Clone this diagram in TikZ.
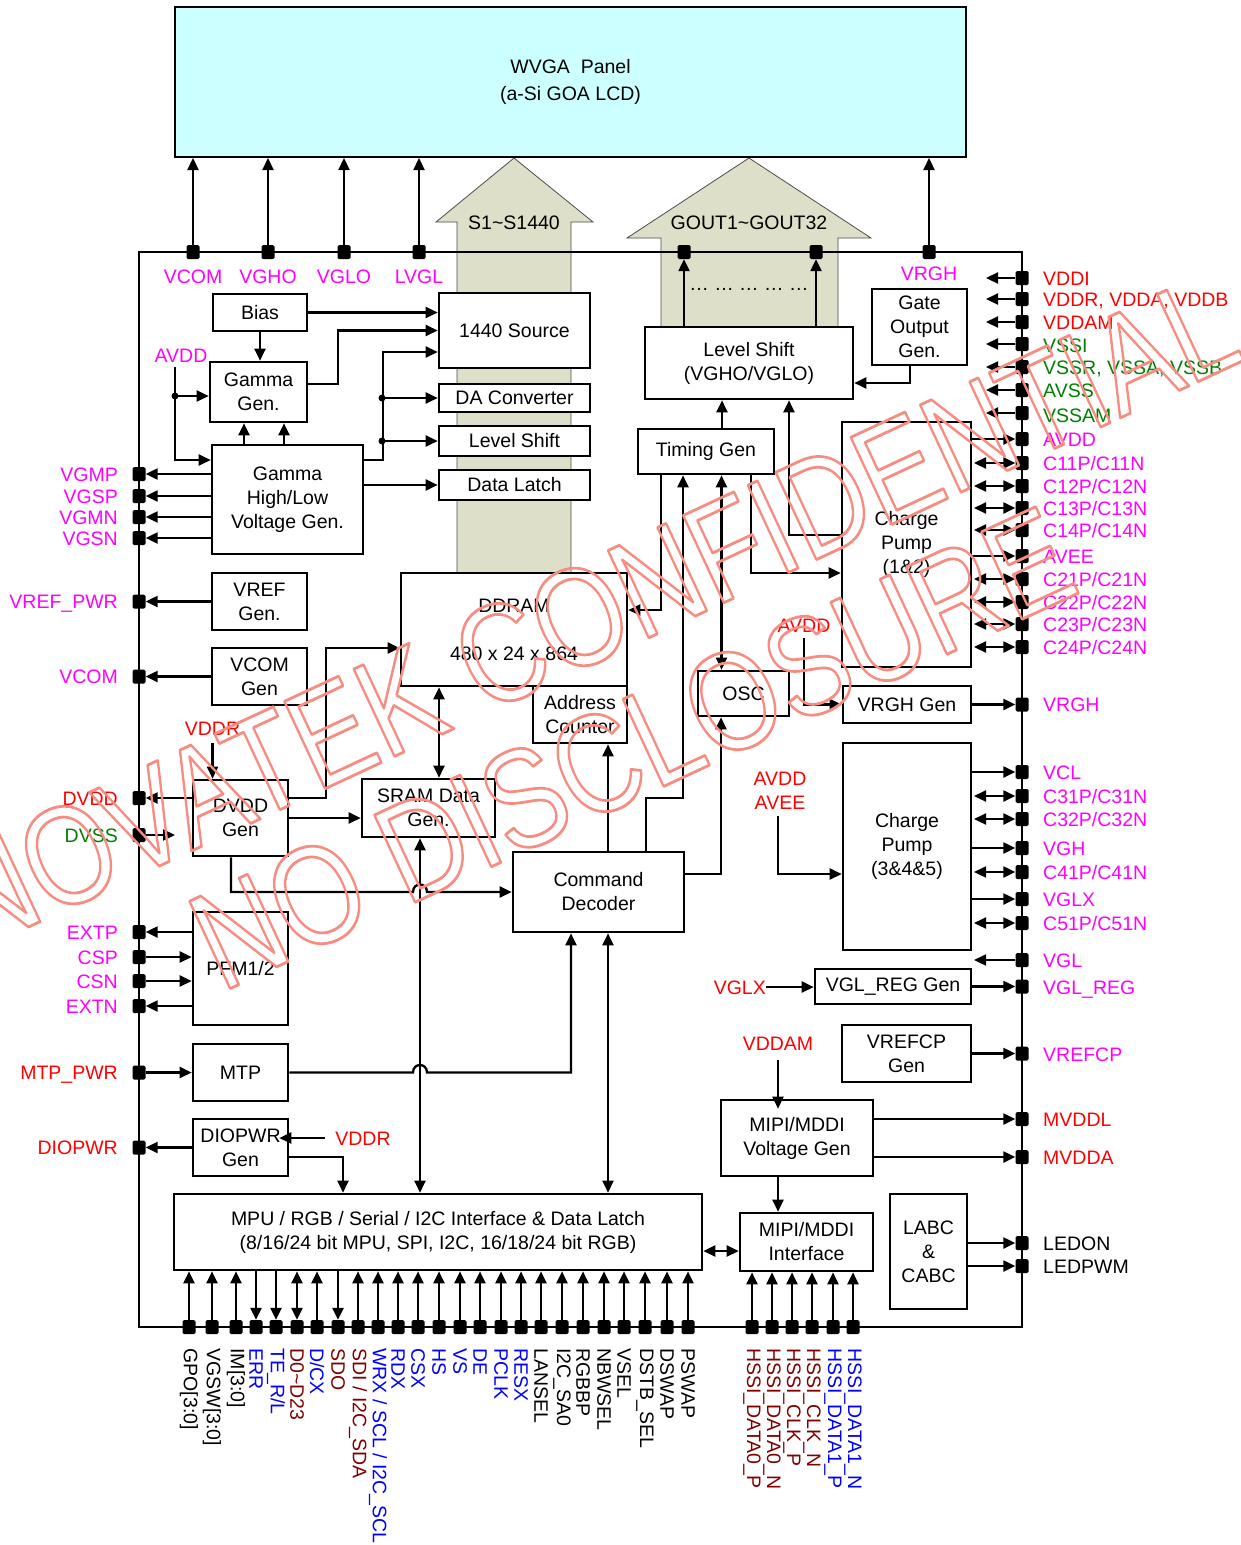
\documentclass[tikz,border=0pt]{standalone}
\usepackage{fontspec}
\usepackage{graphicx}
\setmainfont{Liberation Sans}
\usetikzlibrary{arrows.meta,calc}
\definecolor{mag}{RGB}{255,0,255}
\definecolor{rd}{RGB}{255,0,0}
\definecolor{gr}{RGB}{0,128,0}
\definecolor{bl}{RGB}{0,0,255}
\definecolor{mr}{RGB}{128,0,0}
\definecolor{panelc}{RGB}{204,255,255}
\definecolor{shaftc}{RGB}{221,223,200}
\definecolor{wm}{RGB}{246,140,130}
\newcommand\pinat[3]{\node[pin] (#1) at (#2,#3) {};}
\newcommand\rlab[4]{\node[lab,anchor=west,text=#3] (#1) at (1043,#2) {#4};}
\newcommand\llab[4]{\node[lab,anchor=east,text=#3] (#1) at (118,#2) {#4};}
\newcommand\blab[4]{\node[blabs,text=#3] (#1) at ([yshift=-14pt]#2.south) {#4};}
\newcommand\wmout[1]{\scalebox{0.82}[1]{\special{pdf:literal direct 1 Tr 2.8 w 1 j}#1\special{pdf:literal direct 0 Tr}}}
\tikzset{
  box/.style={draw, line width=2.6pt, fill=white, align=center, inner sep=0pt},
  pin/.style={fill=black, rectangle, rounded corners=1.5pt, minimum width=13pt, minimum height=14pt, inner sep=0pt},
  conn/.style={line width=2.3pt},
  arr/.style={conn, -{Triangle[length=12pt,width=11pt]}},
  darr/.style={conn, {Triangle[length=12pt,width=11pt]}-{Triangle[length=12pt,width=11pt]}},
  lab/.style={inner sep=0pt, text height=14pt, text depth=0pt},
  blabs/.style={inner sep=0pt, rotate=-90, anchor=west},
  shaft/.style={fill=shaftc, draw=black!70, line width=0.8pt},
  wmk/.style={text=wm, font=\fontsize{140}{140}\selectfont, inner sep=0pt},
}
\begin{document}
\begin{tikzpicture}[x=1pt,y=-1pt,font=\fontsize{19.5}{24}\selectfont]
\useasboundingbox (0,0) rectangle (1241,1545);
\fill[white] (0,0) rectangle (1241,1545);

% big bus arrows
\path[shaft] (457,573) -- (457,222) -- (436,222) -- (514,158) -- (593,222) -- (571,222) -- (571,573) -- cycle;
\path[shaft] (661,327) -- (661,238) -- (627,238) -- (749,158) -- (871,238) -- (838,238) -- (838,327) -- cycle;
\node (s1t) at (514,223) {S1\textasciitilde S1440};
\node (goutt) at (749,223) {GOUT1\textasciitilde GOUT32};

% panel and chip
\node[draw, line width=2pt, fill=panelc, minimum width=791pt, minimum height=150pt, align=center, inner sep=0pt] (panel) at (570.5,82) {WVGA\ \ Panel\\[3pt](a-Si GOA LCD)};
\node[draw, line width=2.5pt, minimum width=883pt, minimum height=1075pt, inner sep=0pt] (chip) at (580.5,789.5) {};

% blocks
\node[box, minimum width=94pt, minimum height=37pt] (bias) at (260,312.5) {Bias};
\node[box, minimum width=97pt, minimum height=60pt] (gg) at (258.5,392) {Gamma\\Gen.};
\node[box, minimum width=151pt, minimum height=109pt] (ghl) at (287.5,499.5) {Gamma\\High/Low\\Voltage Gen.};
\node[box, minimum width=151pt, minimum height=75pt] (src) at (514.5,330.5) {1440 Source};
\node[box, minimum width=151pt, minimum height=28pt] (dac) at (514.5,398) {DA Converter};
\node[box, minimum width=151pt, minimum height=30pt] (ls1) at (514.5,441) {Level Shift};
\node[box, minimum width=151pt, minimum height=30pt] (dl) at (514.5,485) {Data Latch};
\node[box, minimum width=95pt, minimum height=57pt] (vref) at (259.5,601.5) {VREF\\Gen.};
\node[box, minimum width=95pt, minimum height=57pt] (vcomg) at (259.5,676.5) {VCOM\\Gen};
\node[box, minimum width=226pt, minimum height=113pt] (ddram) at (514,629.5) {DDRAM\\[24pt]480 x 24 x 864};
\node[box, minimum width=94pt, minimum height=57pt] (addr) at (580,714.5) {Address\\Counter};
\node[box, minimum width=95pt, minimum height=76pt] (dvdd) at (240.5,818) {DVDD\\Gen};
\node[box, minimum width=133pt, minimum height=58pt] (sram) at (428.5,808) {SRAM Data\\Gen.};
\node[box, minimum width=171pt, minimum height=80pt] (cmd) at (598.5,892) {Command\\Decoder};
\node[box, minimum width=95pt, minimum height=113pt] (pfm) at (240.5,968.5) {PFM1/2};
\node[box, minimum width=95pt, minimum height=57pt] (mtp) at (240.5,1072.5) {MTP};
\node[box, minimum width=95pt, minimum height=57pt] (diop) at (240.5,1147.5) {DIOPWR\\Gen};
\node[box, minimum width=528pt, minimum height=76pt] (mpu) at (438,1232) {MPU / RGB / Serial / I2C Interface \& Data Latch\\(8/16/24 bit MPU, SPI, I2C, 16/18/24 bit RGB)};
\node[box, minimum width=208pt, minimum height=72pt] (ls2) at (749,363) {Level Shift\\(VGHO/VGLO)};
\node[box, minimum width=95pt, minimum height=76pt] (gate) at (919.5,327) {Gate\\Output\\Gen.};
\node[box, minimum width=136pt, minimum height=45pt] (tim) at (706,451.5) {Timing Gen};
\node[box, minimum width=91pt, minimum height=45pt] (osc) at (743.5,693.5) {OSC};
\node[box, minimum width=129pt, minimum height=245pt] (cp12) at (906.5,544.5) {Charge\\Pump\\(1\&2)};
\node[box, minimum width=128pt, minimum height=37pt] (vrghg) at (907,704.5) {VRGH Gen};
\node[box, minimum width=128pt, minimum height=207pt] (cp345) at (907,846.5) {Charge\\Pump\\(3\&4\&5)};
\node[box, minimum width=156pt, minimum height=35pt] (vglr) at (893,986.5) {VGL\_REG Gen};
\node[box, minimum width=129pt, minimum height=57pt] (vrefcp) at (906.5,1053.5) {VREFCP\\Gen};
\node[box, minimum width=152pt, minimum height=76pt] (mipiv) at (797,1138) {MIPI/MDDI\\Voltage Gen};
\node[box, minimum width=133pt, minimum height=58pt] (mipii) at (806.5,1242) {MIPI/MDDI\\Interface};
\node[box, minimum width=77pt, minimum height=115pt] (labc) at (928.5,1251.5) {LABC\\\&\\CABC};
\node (dots) at (749,289) {… … … … …};

% pins top
\pinat{pT1}{193}{252}\pinat{pT2}{268}{252}\pinat{pT3}{344}{252}\pinat{pT4}{419}{252}
\pinat{pG1}{684}{252}\pinat{pG2}{816}{252}\pinat{pVRGHt}{929}{252}
% pins right
\pinat{pVDDI}{1022}{278}\pinat{pVDDR}{1022}{299}\pinat{pVDDAM}{1022}{322}\pinat{pVSSI}{1022}{344}
\pinat{pVSSR}{1022}{367}\pinat{pAVSS}{1022}{390}\pinat{pVSSAM}{1022}{413}
\pinat{pAVDDr}{1022}{439}\pinat{pC11}{1022}{463}\pinat{pC12}{1022}{486}\pinat{pC13}{1022}{508}
\pinat{pC14}{1022}{530}\pinat{pAVEE}{1022}{556}\pinat{pC21}{1022}{579}\pinat{pC22}{1022}{602}
\pinat{pC23}{1022}{624}\pinat{pC24}{1022}{647}\pinat{pVRGH}{1022}{704.5}
\pinat{pVCL}{1022}{772}\pinat{pC31}{1022}{796}\pinat{pC32}{1022}{819}\pinat{pVGH}{1022}{848}
\pinat{pC41}{1022}{872}\pinat{pVGLX}{1022}{899}\pinat{pC51}{1022}{923}\pinat{pVGL}{1022}{960}
\pinat{pVGLREG}{1022}{986.5}\pinat{pVREFCP}{1022}{1053.5}\pinat{pMVDDL}{1022}{1119}\pinat{pMVDDA}{1022}{1157}
\pinat{pLEDON}{1022}{1243}\pinat{pLEDPWM}{1022}{1266}
% pins left
\pinat{pVGMP}{139}{474}\pinat{pVGSP}{139}{496}\pinat{pVGMN}{139}{517}\pinat{pVGSN}{139}{538}
\pinat{pVREF}{139}{601.5}\pinat{pVCOM}{139}{676.5}\pinat{pDVDD}{139}{798}\pinat{pDVSS}{139}{835}
\pinat{pEXTP}{139}{932}\pinat{pCSP}{139}{957}\pinat{pCSN}{139}{981}\pinat{pEXTN}{139}{1006}
\pinat{pMTP}{139}{1072.5}\pinat{pDIO}{139}{1147.5}
% pins bottom
\foreach \i/\x in {1/189,2/212,3/236,4/256,5/276,6/297,7/317,8/338,9/358,10/378,11/398,12/418,13/439,14/460,15/480,16/501,17/521,18/541,19/562,20/583,21/604,22/624,23/645,24/667,25/688}
  {\node[pin] (pb\i) at (\x,1327) {};}
\foreach \i/\x in {1/752,2/772,3/792,4/812,5/833,6/853}
  {\node[pin] (pm\i) at (\x,1327) {};}

% ---- connectors ----
\foreach \p in {pT1,pT2,pT3,pT4,pVRGHt} {\draw[arr] (\p) -- (\p |- panel.south);}
\draw[arr] (ls2.north -| pG1) -- (pG1);
\draw[arr] (ls2.north -| pG2) -- (pG2);
\foreach \p in {pVDDI,pVDDR,pVDDAM,pVSSI,pVSSR,pAVSS,pVSSAM} {\draw[arr] (\p) -- ++(-36,0);}
\draw[arr] (cp12.east |- pAVDDr) -- (pAVDDr);
\draw[arr] (cp12.east |- pAVEE) -- (pAVEE);
\foreach \p in {pC11,pC12,pC13,pC14,pC21,pC22,pC23,pC24,pC31,pC32,pC41,pC51} {\draw[darr] (\p) -- ++(-48,0);}
\foreach \p in {pVCL,pVGH,pVGLX} {\draw[arr] (cp345.east |- \p) -- (\p);}
\draw[arr] (pVGL) -- ++(-48,0);
\draw[arr] (vrghg.east) -- (pVRGH);
\draw[arr] (vglr.east) -- (pVGLREG);
\draw[arr] (vrefcp.east) -- (pVREFCP);
\draw[arr] (mipiv.east |- pMVDDL) -- (pMVDDL);
\draw[arr] (mipiv.east |- pMVDDA) -- (pMVDDA);
\draw[arr] (labc.east |- pLEDON) -- (pLEDON);
\draw[arr] (labc.east |- pLEDPWM) -- (pLEDPWM);
\draw[arr] ([xshift=-19pt]mipiv.south) -- ([xshift=-19pt]mipiv.south |- mipii.north);
\coordinate (mm) at ([yshift=-9pt]mipii.west);
\draw[darr] (mpu.east |- mm) -- (mm);
\foreach \i in {1,...,6} {\draw[arr] (pm\i) -- (pm\i |- mipii.south);}
\foreach \i in {1,2,3,7,9,10,11,12,13,14,15,16,17,18,19,20,21,22,23,24,25} {\draw[arr] (pb\i) -- (pb\i |- mpu.south);}
\foreach \i in {4,5,8} {\draw[arr] (pb\i |- mpu.south) -- (pb\i);}
\draw[darr] (pb6) -- (pb6 |- mpu.south);

% left group
\draw[arr] (bias.east) -- (bias.east -| src.west);
\draw[arr] (bias.south) -- (bias.south |- gg.north);
\draw[arr] ([yshift=8pt]gg.east) -- ++(30,0) |- (src.west);
\node[lab, text=mag] (avdd1) at (181,355) {AVDD};
\coordinate (dA) at (175,396);
\draw[arr] ([yshift=-5pt]avdd1.south -| dA) |- ([yshift=39.5pt]ghl.west);
\draw[arr] (dA) -- (dA -| gg.west);
\fill (dA) circle[radius=3.5pt];
\draw[arr] ([xshift=-43.5pt]ghl.north) -- ([xshift=-43.5pt]ghl.north |- gg.south);
\draw[arr] ([xshift=-3.5pt]ghl.north) -- ([xshift=-3.5pt]ghl.north |- gg.south);
\draw[arr] ([yshift=39.5pt]ghl.east) -- ++(19,0) |- ([yshift=-21.5pt]src.west);
\coordinate (dB) at (382,398);
\coordinate (dC) at (382,441);
\draw[arr] (dB) -- (dB -| dac.west);
\draw[arr] (dC) -- (dC -| ls1.west);
\fill (dB) circle[radius=3.5pt];
\fill (dC) circle[radius=3.5pt];
\draw[arr] (ghl.east |- dl.west) -- (dl.west);
\foreach \p in {pVGMP,pVGSP,pVGMN,pVGSN} {\draw[arr] (ghl.west |- \p) -- (\p);}
\draw[arr] (vref.west) -- (pVREF);
\draw[arr] (vcomg.west) -- (pVCOM);
\draw[arr] (dvdd.west |- pDVDD) -- (pDVDD);
\draw[arr] (pDVSS) -- ++(36,0);
\draw[arr] (pfm.west |- pEXTP) -- (pEXTP);
\draw[arr] (pCSP) -- (pCSP -| pfm.west);
\draw[arr] (pCSN) -- (pCSN -| pfm.west);
\draw[arr] (pfm.west |- pEXTN) -- (pEXTN);
\draw[arr] (pMTP) -- (mtp.west);
\draw[arr] (diop.west) -- (pDIO);
\node[lab, text=rd] (vddr1) at (212.5,728) {VDDR};
\draw[arr] ([yshift=-8pt]vddr1.south) -- (vddr1.south |- dvdd.north);
\draw[arr] ([yshift=20pt]dvdd.east) -- ++(37,0) |- ([yshift=-18.5pt]ddram.west);
\draw[arr] (dvdd.east) -- (dvdd.east -| sram.west);
\draw[darr] ([xshift=10.5pt]sram.north) -- ([xshift=10.5pt]sram.north |- ddram.south);
\coordinate (h1) at (420,892);
\draw[arr] ([xshift=-9.5pt]dvdd.south) |- ([xshift=-7pt]h1) .. controls +(0,-10) and +(0,-10) .. ([xshift=7pt]h1) -- (cmd.west);
\draw[darr] ([xshift=-8.5pt]sram.south) -- ([xshift=-8.5pt]sram.south |- mpu.north);
\coordinate (h2) at (420,1072.5);
\draw[arr] (mtp.east) -- ([xshift=-7pt]h2) .. controls +(0,-10) and +(0,-10) .. ([xshift=7pt]h2) -| ([xshift=-27.5pt]cmd.south);
\draw[darr] ([xshift=9.5pt]cmd.south) -- ([xshift=9.5pt]cmd.south |- mpu.north);
\draw[arr] ([yshift=-9.5pt]diop.east) -| ([xshift=-95pt]mpu.north);
\node[lab, text=rd] (vddr2) at (363,1138) {VDDR};
\draw[arr] ([xshift=-10pt]vddr2.west) -- ([xshift=-10pt]vddr2.west -| diop.east);

% centre group
\draw[arr] ([xshift=9.5pt]cmd.north) -- ([xshift=9.5pt]cmd.north |- addr.south);
\draw[arr] ([xshift=47.5pt]cmd.north) -- ++(0,-53) -| ([xshift=-23pt]tim.south);
\draw[arr] ([yshift=18pt]cmd.east) -| ([xshift=-22.5pt]osc.south);
\draw[darr] ([xshift=15.5pt]tim.south) -- ([xshift=15.5pt]tim.south |- osc.north);
\draw[arr] ([xshift=-45pt]tim.south) |- ([yshift=19.5pt]ddram.east);
\draw[arr] ([xshift=45pt]tim.south) |- ([yshift=-28.5pt]cp12.west);
\draw[arr] ([yshift=9.5pt]cp12.west) -| ([xshift=40pt]ls2.south);
\draw[arr] ([xshift=16pt]tim.north) -- ([xshift=16pt]tim.north |- ls2.south);
\draw[arr] ([xshift=-9.5pt]gate.south) |- ([yshift=-20pt]ls2.east);

% right inputs
\node[lab, text=rd] (avdd2) at (804,625) {AVDD};
\draw[arr] ([yshift=-6pt]avdd2.south) |- (vrghg.west);
\node[text=rd, align=center, inner sep=0pt] (aa) at (780,791) {AVDD\\AVEE};
\draw[arr] ([xshift=-2pt,yshift=-6pt]aa.south) |- ([yshift=-27.5pt]cp345.west);
\node[lab, anchor=east, text=rd] (vglx) at (766,987) {VGLX};
\draw[arr] (vglx.east) -- (vglx.east -| vglr.west);
\node[lab, text=rd] (vddam2) at (778,1043) {VDDAM};
\draw[arr] ([yshift=-10pt]vddam2.south) -- ([yshift=-10pt]vddam2.south |- mipiv.north);

% ---- labels ----
\node[lab, text=mag] (tl1) at (193,276) {VCOM};
\node[lab, text=mag] (tl2) at (268,276) {VGHO};
\node[lab, text=mag] (tl3) at (344,276) {VGLO};
\node[lab, text=mag] (tl4) at (419,276) {LVGL};
\node[lab, text=mag] (tl5) at (929,273) {VRGH};

\rlab{rl1}{278}{rd}{VDDI}
\rlab{rl2}{299}{rd}{VDDR, VDDA, VDDB}
\rlab{rl3}{322}{rd}{VDDAM}
\rlab{rl4}{345}{gr}{VSSI}
\rlab{rl5}{367}{gr}{VSSR, VSSA, VSSB}
\rlab{rl6}{390}{gr}{AVSS}
\rlab{rl7}{415}{gr}{VSSAM}
\rlab{rl8}{439}{mag}{AVDD}
\rlab{rl9}{463}{mag}{C11P/C11N}
\rlab{rl10}{486}{mag}{C12P/C12N}
\rlab{rl11}{508}{mag}{C13P/C13N}
\rlab{rl12}{530}{mag}{C14P/C14N}
\rlab{rl13}{556}{mag}{AVEE}
\rlab{rl14}{579}{mag}{C21P/C21N}
\rlab{rl15}{602}{mag}{C22P/C22N}
\rlab{rl16}{624}{mag}{C23P/C23N}
\rlab{rl17}{647}{mag}{C24P/C24N}
\rlab{rl18}{704.5}{mag}{VRGH}
\rlab{rl19}{772}{mag}{VCL}
\rlab{rl20}{796}{mag}{C31P/C31N}
\rlab{rl21}{819}{mag}{C32P/C32N}
\rlab{rl22}{848}{mag}{VGH}
\rlab{rl23}{872}{mag}{C41P/C41N}
\rlab{rl24}{899}{mag}{VGLX}
\rlab{rl25}{923}{mag}{C51P/C51N}
\rlab{rl26}{960}{mag}{VGL}
\rlab{rl27}{987}{mag}{VGL\_REG}
\rlab{rl28}{1054}{mag}{VREFCP}
\rlab{rl29}{1119}{rd}{MVDDL}
\rlab{rl30}{1157}{rd}{MVDDA}
\rlab{rl31}{1243}{black}{LEDON}
\rlab{rl32}{1266}{black}{LEDPWM}

\llab{ll1}{474}{mag}{VGMP}
\llab{ll2}{496}{mag}{VGSP}
\llab{ll3}{517}{mag}{VGMN}
\llab{ll4}{538}{mag}{VGSN}
\llab{ll5}{601.5}{mag}{VREF\_PWR}
\llab{ll6}{676.5}{mag}{VCOM}
\llab{ll7}{798}{rd}{DVDD}
\llab{ll8}{835}{gr}{DVSS}
\llab{ll9}{932}{mag}{EXTP}
\llab{ll10}{957}{mag}{CSP}
\llab{ll11}{981}{mag}{CSN}
\llab{ll12}{1006}{mag}{EXTN}
\llab{ll13}{1072.5}{rd}{MTP\_PWR}
\llab{ll14}{1147.5}{rd}{DIOPWR}

\blab{bl1}{pb1}{black}{GPO[3:0]}
\blab{bl2}{pb2}{black}{VGSW[3:0]}
\blab{bl3}{pb3}{black}{IM[3:0]}
\blab{bl4}{pb4}{bl}{ERR}
\blab{bl5}{pb5}{bl}{TE\_R/L}
\blab{bl6}{pb6}{mr}{D0\textasciitilde D23}
\blab{bl7}{pb7}{bl}{D/CX}
\blab{bl8}{pb8}{mr}{SDO}
\blab{bl9}{pb9}{mr}{SDI / I2C\_SDA}
\blab{bl10}{pb10}{bl}{WRX / SCL / I2C\_SCL}
\blab{bl11}{pb11}{bl}{RDX}
\blab{bl12}{pb12}{bl}{CSX}
\blab{bl13}{pb13}{bl}{HS}
\blab{bl14}{pb14}{bl}{VS}
\blab{bl15}{pb15}{bl}{DE}
\blab{bl16}{pb16}{bl}{PCLK}
\blab{bl17}{pb17}{bl}{RESX}
\blab{bl18}{pb18}{black}{LANSEL}
\blab{bl19}{pb19}{black}{I2C\_SA0}
\blab{bl20}{pb20}{black}{RGBBP}
\blab{bl21}{pb21}{black}{NBWSEL}
\blab{bl22}{pb22}{black}{VSEL}
\blab{bl23}{pb23}{black}{DSTB\_SEL}
\blab{bl24}{pb24}{black}{DSWAP}
\blab{bl25}{pb25}{black}{PSWAP}
\blab{ml1}{pm1}{mr}{HSSI\_DATA0\_P}
\blab{ml2}{pm2}{mr}{HSSI\_DATA0\_N}
\blab{ml3}{pm3}{mr}{HSSI\_CLK\_P}
\blab{ml4}{pm4}{mr}{HSSI\_CLK\_N}
\blab{ml5}{pm5}{bl}{HSSI\_DATA1\_P}
\blab{ml6}{pm6}{bl}{HSSI\_DATA1\_N}

% watermark
\node[wmk, rotate=25] (wm1) at (590,612) {\wmout{NOVATEK CONFIDENTIAL}};
\node[wmk, rotate=25] (wm2) at (632,748) {\wmout{NO DISCLOSURE}};
\end{tikzpicture}
\end{document}
